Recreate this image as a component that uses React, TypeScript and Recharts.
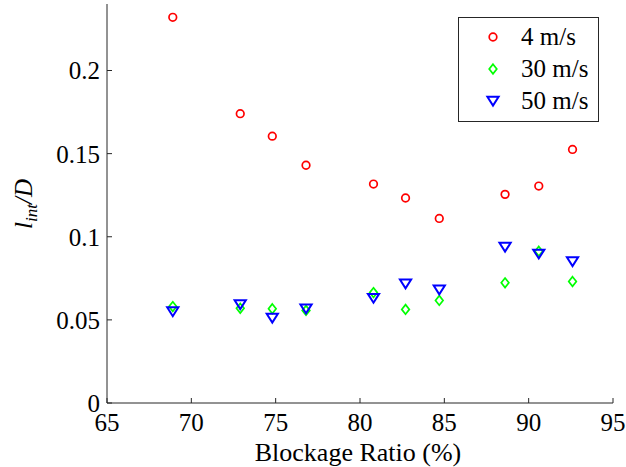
import { ScatterChart, Scatter, XAxis, YAxis, Legend } from 'recharts';

// blockage ratio (%) of each test case
const blockage = [68.9, 72.9, 74.8, 76.8, 80.8, 82.7, 84.7, 88.6, 90.6, 92.6];
// l_int / D at each free-stream speed
const lint4 = [0.232, 0.174, 0.1605, 0.143, 0.1317, 0.1233, 0.111, 0.1255, 0.1305, 0.1525];
const lint30 = [0.058, 0.057, 0.0567, 0.0557, 0.0664, 0.0563, 0.0617, 0.0723, 0.0913, 0.0731];
const lint50 = [0.055, 0.0593, 0.0511, 0.0567, 0.0631, 0.0717, 0.0681, 0.0938, 0.0897, 0.0851];

const seriesNames = ['4 m/s', '30 m/s', '50 m/s'];
const xTicks = [65, 70, 75, 80, 85, 90, 95];
const yTicks = [0, 0.05, 0.1, 0.15, 0.2];

const FONT = 'Liberation Serif, Tinos, DejaVu Serif, serif';
const AXIS = '#262626';
const RED = '#ff0000';
const GREEN = '#00ff00';
const BLUE = '#0000ff';

const toPoints = (ys: number[]) => blockage.map((x, i) => ({ x, y: ys[i] }));

function Ring({ cx, cy }: any) {
  return <circle cx={cx} cy={cy} r={3.8} fill="none" stroke={RED} strokeWidth={1.7} />;
}

function Diamond({ cx, cy }: any) {
  return (
    <path
      d={`M${cx},${cy - 4.8}L${cx + 3.8},${cy}L${cx},${cy + 4.8}L${cx - 3.8},${cy}Z`}
      fill="none"
      stroke={GREEN}
      strokeWidth={1.7}
    />
  );
}

function TriangleDown({ cx, cy }: any) {
  return (
    <path
      d={`M${cx - 5.6},${cy - 4.2}L${cx + 5.6},${cy - 4.2}L${cx},${cy + 4.6}Z`}
      fill="none"
      stroke={BLUE}
      strokeWidth={2}
    />
  );
}

const markers = [Ring, Diamond, TriangleDown];

function LegendBox() {
  return (
    <div
      style={{
        boxSizing: 'border-box',
        width: 141,
        height: 105,
        border: `1px solid ${AXIS}`,
        background: '#fff',
        paddingTop: 3,
        fontFamily: FONT,
        fontSize: 25,
        color: '#000',
      }}
    >
      {seriesNames.map((name, i) => {
        const Marker = markers[i];
        return (
          <div key={name} style={{ display: 'flex', alignItems: 'center', height: 32 }}>
            <svg width={62} height={32} style={{ display: 'block' }}>
              <Marker cx={34} cy={16} />
            </svg>
            <span style={{ lineHeight: '32px' }}>{name}</span>
          </div>
        );
      })}
    </div>
  );
}

const tickStyle = { fontSize: 25, fill: '#000', fontFamily: FONT };
const noLabel = () => <g />;

export default function App() {
  return (
    <div style={{ position: 'absolute', left: 0, top: 0, fontFamily: FONT }}>
      <ScatterChart
        width={626}
        height={467}
        margin={{ top: 4, right: 13, left: 0, bottom: 0 }}
        style={{ fontFamily: FONT }}
      >
        <XAxis
          type="number"
          dataKey="x"
          domain={[65, 95]}
          ticks={xTicks}
          height={64}
          tick={tickStyle}
          tickSize={-5}
          tickMargin={15}
          stroke={AXIS}
          allowDataOverflow
          label={{
            content: () => (
              <text x={358} y={461} textAnchor="middle" fontFamily={FONT} fontSize={26} fill="#000">
                Blockage Ratio (%)
              </text>
            ),
          }}
        />
        <XAxis
          xAxisId="top"
          orientation="top"
          type="number"
          domain={[65, 95]}
          ticks={xTicks}
          height={0}
          tick={noLabel}
          tickSize={-5}
          stroke={AXIS}
          allowDataOverflow
        />
        <YAxis
          type="number"
          dataKey="y"
          domain={[0, 0.24]}
          ticks={yTicks}
          width={107}
          tick={tickStyle}
          tickSize={-5}
          tickMargin={12}
          stroke={AXIS}
          allowDataOverflow
          label={{
            content: () => (
              <text
                transform="rotate(-90, 32, 204)"
                x={32}
                y={204}
                textAnchor="middle"
                fontFamily={FONT}
                fontSize={25}
                fontStyle="italic"
                fill="#000"
              >
                <tspan>l</tspan>
                <tspan fontSize={17} dy={5}>int</tspan>
                <tspan dy={-5}>/D</tspan>
              </text>
            ),
          }}
        />
        <YAxis
          yAxisId="right"
          orientation="right"
          type="number"
          domain={[0, 0.24]}
          ticks={yTicks}
          width={0}
          tick={noLabel}
          tickSize={-5}
          stroke={AXIS}
          allowDataOverflow
        />
        <Legend
          layout="horizontal"
          verticalAlign="middle"
          align="center"
          content={() => <LegendBox />}
          wrapperStyle={{ left: 458, top: 17, width: 141, height: 105 }}
        />
        <Scatter name={seriesNames[0]} data={toPoints(lint4)} shape={Ring} isAnimationActive={false} />
        <Scatter name={seriesNames[1]} data={toPoints(lint30)} shape={Diamond} isAnimationActive={false} />
        <Scatter name={seriesNames[2]} data={toPoints(lint50)} shape={TriangleDown} isAnimationActive={false} />
      </ScatterChart>
    </div>
  );
}
